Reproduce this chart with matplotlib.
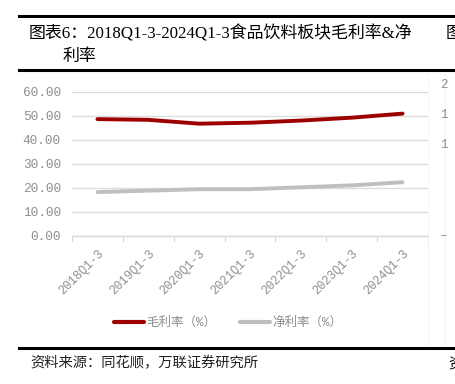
import matplotlib
matplotlib.use("Agg")
import matplotlib.pyplot as plt
from matplotlib.lines import Line2D

categories = ["2018Q1-3", "2019Q1-3", "2020Q1-3", "2021Q1-3", "2022Q1-3", "2023Q1-3", "2024Q1-3"]
gross_margin = [48.7, 48.4, 46.8, 47.2, 48.1, 49.3, 51.0]
net_margin = [18.3, 18.9, 19.5, 19.5, 20.3, 21.1, 22.4]
yticks = [0, 10, 20, 30, 40, 50, 60]
series_names = ["毛利率（%）", "净利率（%）"]
title_line1 = "图表6：2018Q1-3-2024Q1-3食品饮料板块毛利率&净"
title_line2 = "利率"
source_text = "资料来源：同花顺，万联证券研究所"

W, H = 455, 384
fig = plt.figure(figsize=(W / 100, H / 100), dpi=100)
fig.patch.set_facecolor("white")

serif_cjk = ["Liberation Serif", "Noto Sans CJK SC"]
tick_font = ["Liberation Mono", "Noto Sans CJK SC"]
tick_color = "#8F8F8F"

def fx(px):
    return px / W

def fy(py):
    return 1 - py / H

# header / footer rules
fig.add_artist(Line2D([fx(19), 1.0], [fy(16), fy(16)], color="black", lw=2.2))
fig.add_artist(Line2D([fx(19), 1.0], [fy(69.5), fy(69.5)], color="black", lw=2.2))
fig.add_artist(Line2D([fx(19), 1.0], [fy(348), fy(348)], color="black", lw=2.2))

fig.text(fx(29), fy(34), title_line1, family=serif_cjk, fontsize=12.2, va="center", ha="left")
fig.text(fx(63), fy(57), title_line2, family=serif_cjk, fontsize=12.2, va="center", ha="left")
fig.text(fx(30), fy(363), source_text, family=serif_cjk, fontsize=10.3, va="center", ha="left",
         style="italic", color="#222222")

# neighbouring panel remnants on the right (cut off at the edge, as in the source)
fig.text(fx(446), fy(34), "图", family=serif_cjk, fontsize=12.2, va="center", ha="left")
fig.text(fx(448), fy(364), "资", family=serif_cjk, fontsize=10.3, va="center", ha="left", style="italic")
for yy, s in [(85, "2"), (115, "1"), (145, "1"), (236, "–")]:
    fig.text(fx(440), fy(yy), s, family=tick_font, fontsize=9, color=tick_color, va="center", ha="left")
fig.add_artist(Line2D([fx(428), fx(428)], [fy(72), fy(346)], color="#f2f2f2", lw=0.6))
fig.add_artist(Line2D([fx(445), fx(445)], [fy(72), fy(346)], color="#f2f2f2", lw=0.6))

ax = fig.add_axes([fx(72), fy(236), fx(428) - fx(72), fy(92) - fy(236)])
x = list(range(len(categories)))
ax.plot(x, gross_margin, color="#9E0000", lw=2.8, solid_capstyle="round", zorder=3)
ax.plot(x, net_margin, color="#BFBFBF", lw=2.8, solid_capstyle="round", zorder=3)

ax.set_xlim(-0.5, len(categories) - 0.5)
ax.set_ylim(0, 60)
ax.set_yticks(yticks)
ax.set_yticklabels([f"{v:.2f}" for v in yticks], family=tick_font, fontsize=9.2, color=tick_color)
ax.yaxis.grid(True, color="#DDDDDD", lw=1.0)
ax.set_axisbelow(True)
ax.tick_params(axis="y", length=0, pad=8)

ax.set_xticks([i - 0.5 for i in range(len(categories) + 1)])
ax.set_xticklabels([])
ax.set_xticks(x, minor=True)
ax.set_xticklabels(categories, minor=True, rotation=45, ha="right", va="top",
                   rotation_mode="anchor", family=tick_font, fontsize=8.7, color=tick_color)
ax.tick_params(axis="x", which="major", length=4, color="#D9D9D9", direction="out")
ax.tick_params(axis="x", which="minor", length=0, pad=8)

for s in ["top", "right", "left"]:
    ax.spines[s].set_visible(False)
ax.spines["bottom"].set_color("#D9D9D9")
ax.spines["bottom"].set_linewidth(1.0)

handles = [Line2D([0], [0], color="#9E0000", lw=3, solid_capstyle="round"),
           Line2D([0], [0], color="#BFBFBF", lw=3, solid_capstyle="round")]
leg = fig.legend(handles, series_names, loc="center", bbox_to_anchor=(fx(228), fy(323)),
                 ncol=2, frameon=False, handlelength=2.4, handletextpad=0.2, columnspacing=1.9,
                 prop={"family": tick_font, "size": 9})
for t in leg.get_texts():
    t.set_color(tick_color)

fig.savefig("out.png", dpi=100, facecolor="white")
